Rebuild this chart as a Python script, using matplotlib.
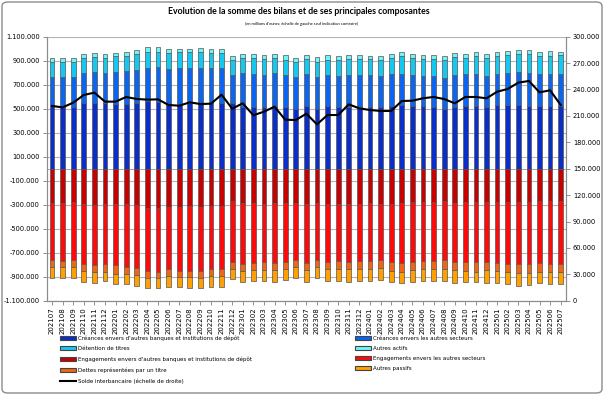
import matplotlib
matplotlib.use("Agg")
import matplotlib.pyplot as plt
import numpy as np
from matplotlib.ticker import FuncFormatter, MultipleLocator
from matplotlib.patches import Patch, FancyBboxPatch
from matplotlib.lines import Line2D

months = ["202107", "202108", "202109", "202110", "202111", "202112",
          "202201", "202202", "202203", "202204", "202205", "202206",
          "202207", "202208", "202209", "202210", "202211", "202212",
          "202301", "202302", "202303", "202304", "202305", "202306",
          "202307", "202308", "202309", "202310", "202311", "202312",
          "202401", "202402", "202403", "202404", "202405", "202406",
          "202407", "202408", "202409", "202410", "202411", "202412",
          "202501", "202502", "202503", "202504", "202505", "202506",
          "202507"]

# assets (thousands of millions -> scaled below), positive stack
creances_banques = [522, 514, 517, 545, 550, 545, 539, 539, 545, 567, 559, 531, 531, 545, 539, 550, 550, 545, 517, 517,
                    517, 517, 517, 500, 522, 497, 522, 514, 514, 514, 514, 514, 520, 531, 525, 520, 517, 497, 514, 525,
                    525, 517, 531, 531, 531, 520, 520, 520, 525]
creances_secteurs = [239, 253, 244, 250, 253, 250, 269, 275, 278, 272, 286, 303, 305, 292, 300, 286, 286, 233, 278, 269,
                     264, 278, 261, 261, 267, 264, 258, 261, 267, 267, 264, 256, 269, 261, 256, 256, 258, 261, 267, 261,
                     264, 256, 258, 267, 275, 281, 269, 272, 265]
detention_titres = [131, 125, 131, 131, 131, 131, 133, 128, 131, 136, 131, 133, 133, 133, 136, 125, 125, 125, 125, 133,
                    131, 131, 128, 125, 122, 131, 128, 133, 131, 131, 133, 136, 133, 150, 139, 136, 139, 145, 147, 139,
                    150, 150, 150, 150, 150, 153, 147, 150, 155]
autres_actifs = [28, 28, 28, 31, 33, 28, 25, 33, 36, 39, 39, 31, 31, 31, 33, 36, 36, 33, 36, 33,
                 36, 31, 39, 33, 36, 36, 36, 33, 33, 33, 31, 31, 33, 31, 33, 33, 36, 39, 33, 33,
                 33, 31, 31, 33, 33, 33, 33, 36, 30]
# liabilities, drawn negative
engagements_banques = [283, 289, 280, 297, 303, 297, 297, 297, 303, 325, 330, 316, 322, 311, 322, 311, 311, 269, 289, 289,
                       297, 289, 289, 289, 297, 289, 297, 297, 297, 297, 283, 297, 297, 283, 275, 275, 275, 269, 283, 280,
                       275, 275, 275, 280, 275, 275, 266, 266, 272]
engagements_secteurs = [478, 478, 481, 494, 497, 494, 506, 519, 522, 528, 528, 522, 531, 539, 528, 528, 528, 506, 503, 495,
                        481, 495, 486, 472, 486, 472, 478, 469, 478, 472, 483, 464, 478, 506, 500, 492, 492, 492, 492, 495,
                        500, 506, 508, 517, 522, 522, 517, 531, 520]
dettes_titres = [61, 56, 58, 61, 58, 67, 72, 64, 61, 56, 56, 56, 53, 56, 58, 56, 56, 58, 61, 61,
                 67, 61, 64, 61, 61, 61, 64, 72, 64, 69, 70, 69, 78, 75, 72, 72, 72, 75, 69, 78,
                 83, 64, 69, 67, 75, 75, 75, 67, 70]
autres_passifs = [86, 86, 94, 89, 92, 78, 83, 83, 89, 89, 83, 92, 83, 89, 89, 89, 89, 86, 95, 92,
                  89, 97, 89, 92, 97, 92, 95, 97, 103, 97, 97, 100, 95, 92, 100, 97, 97, 97, 106, 89,
                  89, 111, 103, 100, 103, 97, 97, 100, 100]
solde_interbancaire = [221.3, 219.7, 225.0, 233.8, 236.4, 226.2, 226.2, 231.5, 229.2, 228.5,
                       228.8, 222.4, 221.6, 225.4, 223.5, 223.9, 234.1, 218.2, 224.3, 210.7,
                       214.8, 220.5, 205.7, 205.3, 212.5, 200.4, 211.0, 211.0, 223.1, 218.6,
                       216.7, 215.6, 215.6, 226.9, 227.3, 230.0, 231.5, 229.2, 224.3, 231.5,
                       231.5, 230.0, 237.5, 240.6, 247.8, 249.7, 236.8, 239.1, 222.4]

left_ticks = [-1100000, -900000, -700000, -500000, -300000, -100000,
              100000, 300000, 500000, 700000, 900000, 1100000]

labels_left = ["Créances envers d'autres banques et institutions de dépôt", "Détention de titres",
               "Engagements envers d'autres banques et institutions de dépôt", "Dettes représentées par un titre",
               "Solde interbancaire (échelle de droite)"]
labels_right = ["Créances envers les autres secteurs", "Autres actifs",
                "Engagements envers les autres secteurs", "Autres passifs"]

c_db, c_b, c_cy, c_lc = "#0A2FC8", "#0A66F0", "#14C8F0", "#6EF5F5"
c_dr, c_r, c_do, c_o = "#C80000", "#FF0A0A", "#F06414", "#FFA000"
edge = "#555555"

W, H = 604, 395
fig = plt.figure(figsize=(W / 100, H / 100), dpi=100)
fig.patches.append(FancyBboxPatch((2 / W, 2 / H), 1 - 4 / W, 1 - 4 / H,
                                  boxstyle="round,pad=0,rounding_size=0.01",
                                  transform=fig.transFigure, fill=False,
                                  edgecolor="#8c8c8c", linewidth=1.0))

ax = fig.add_axes([46.7 / W, 1 - 300.7 / H, (566 - 46.7) / W, (300.7 - 36.7) / H])
x = np.arange(len(months))
k = 1000.0
bw = 0.45
ekw = dict(edgecolor=edge, linewidth=0.5, width=bw, zorder=3)

a1 = np.array(creances_banques) * k
a2 = np.array(creances_secteurs) * k
a3 = np.array(detention_titres) * k
a4 = np.array(autres_actifs) * k
l1 = np.array(engagements_banques) * k
l2 = np.array(engagements_secteurs) * k
l3 = np.array(dettes_titres) * k
l4 = np.array(autres_passifs) * k

ax.bar(x, a1, color=c_db, **ekw)
ax.bar(x, a2, bottom=a1, color=c_b, **ekw)
ax.bar(x, a3, bottom=a1 + a2, color=c_cy, **ekw)
ax.bar(x, a4, bottom=a1 + a2 + a3, color=c_lc, **ekw)
ax.bar(x, -l1, color=c_dr, **ekw)
ax.bar(x, -l2, bottom=-l1, color=c_r, **ekw)
ax.bar(x, -l3, bottom=-l1 - l2, color=c_do, **ekw)
ax.bar(x, -l4, bottom=-l1 - l2 - l3, color=c_o, **ekw)

ax.set_xlim(-0.5, len(months) - 0.5)
ax.set_ylim(-1100000, 1100000)
ax.set_yticks(left_ticks)
fmt = FuncFormatter(lambda v, p: f"{v:,.0f}".replace(",", "."))
ax.yaxis.set_major_formatter(fmt)
ax.grid(axis="y", color="#b4b4b4", linewidth=0.8, zorder=0)
ax.set_axisbelow(True)
ax.axhline(0, color="#9a9a9a", linewidth=0.6, zorder=2)
ax.set_xticks(x)
ax.set_xticklabels(months, rotation=90, fontsize=5.0)
ax.tick_params(axis="y", labelsize=4.8, length=3, width=0.6, color="#808080", pad=2)
ax.tick_params(axis="x", length=3, width=0.6, color="#808080", pad=2)
for s in ax.spines.values():
    s.set_color("#8c8c8c")
    s.set_linewidth(0.8)
ax.spines["top"].set_visible(False)

ax2 = ax.twinx()
ax2.plot(x, np.array(solde_interbancaire) * k, color="black", linewidth=1.5, zorder=5)
ax2.set_ylim(0, 300000)
ax2.yaxis.set_major_locator(MultipleLocator(30000))
ax2.yaxis.set_major_formatter(fmt)
ax2.tick_params(axis="y", labelsize=4.8, length=3, width=0.6, color="#808080", pad=2)
for s in ax2.spines.values():
    s.set_color("#8c8c8c")
    s.set_linewidth(0.8)
ax2.spines["top"].set_visible(False)

fig.text(0.5 - 3 / W, 1 - 12 / H, "Evolution de la somme des bilans et de ses principales composantes",
         ha="center", va="center", fontsize=6.3, fontweight="bold", family="Lato")
fig.text(0.5, 1 - 24 / H, "(en millions d'euros; échelle de gauche sauf indication contraire)",
         ha="center", va="center", fontsize=3.0, family="Lato")

pk = dict(edgecolor="#444444", linewidth=0.8)
h_left = [Patch(facecolor=c_db, **pk), Patch(facecolor=c_cy, **pk),
          Patch(facecolor=c_dr, **pk), Patch(facecolor=c_do, **pk),
          Line2D([0], [0], color="black", linewidth=1.5)]
h_right = [Patch(facecolor=c_b, **pk), Patch(facecolor=c_lc, **pk),
           Patch(facecolor=c_r, **pk), Patch(facecolor=c_o, **pk)]
lkw = dict(frameon=False, fontsize=4.0, handlelength=2.9, handleheight=0.7, handletextpad=0.3,
           labelspacing=0.95, borderpad=0, borderaxespad=0, loc="upper left")
fig.legend(h_left, labels_left, bbox_to_anchor=(60 / W, 1 - 335.5 / H), **lkw)
fig.legend(h_right, labels_right, bbox_to_anchor=(355 / W, 1 - 335.5 / H), **lkw)

fig.savefig("out.png", dpi=100)
